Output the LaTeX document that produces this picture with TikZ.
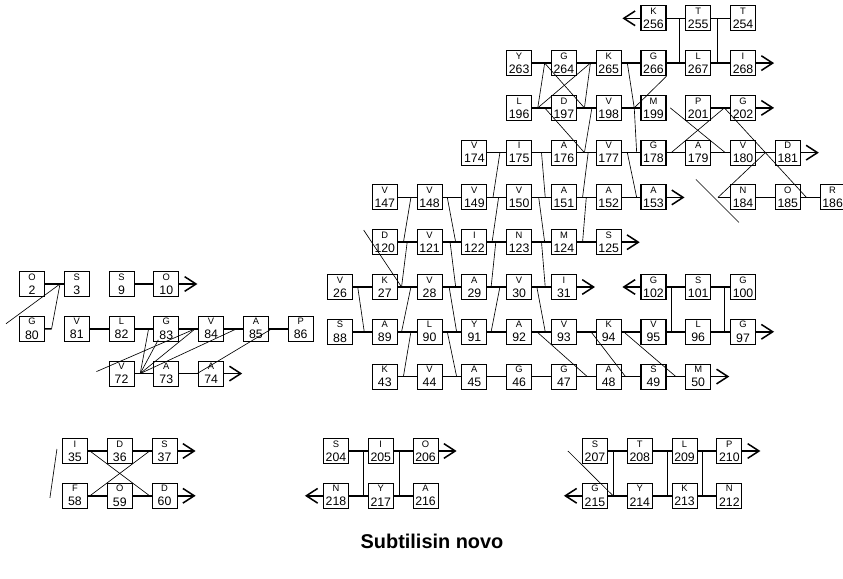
\documentclass[tikz,border=0pt]{standalone}
\usepackage{fontspec}
\setmainfont{Liberation Sans}
\usetikzlibrary{arrows.meta,positioning,calc}

\begin{document}
\begin{tikzpicture}[
  x=.3mm,y=-.3mm,
  node distance=5.6mm,
  res/.style={draw,line width=.95pt,minimum size=7.5mm,inner sep=0pt,align=center,font=\fontsize{10.5}{12}\selectfont},
  bond/.style={line width=1.3pt},
  link/.style={line width=.55pt},
  chev/.style={-{Straight Barb[length=3.4mm,width=4.4mm]}}
]
  \useasboundingbox (0,0) rectangle (843,579);

  % central sheet, row by row
  \node[res] (r26) at (340,287) {{\footnotesize V}\\26};
  \node[res,right=of r26] (r27) {{\footnotesize K}\\27};
  \node[res,right=of r27] (r28) {{\footnotesize V}\\28};
  \node[res,right=of r28] (r29) {{\footnotesize A}\\29};
  \node[res,right=of r29] (r30) {{\footnotesize V}\\30};
  \node[res,right=of r30] (r31) {{\footnotesize I}\\31};

  \node[res,above=of r27] (r120) {{\footnotesize D}\\120};
  \node[res,right=of r120] (r121) {{\footnotesize V}\\121};
  \node[res,right=of r121] (r122) {{\footnotesize I}\\122};
  \node[res,right=of r122] (r123) {{\footnotesize N}\\123};
  \node[res,right=of r123] (r124) {{\footnotesize M}\\124};
  \node[res,right=of r124] (r125) {{\footnotesize S}\\125};

  \node[res,above=of r120] (r147) {{\footnotesize V}\\147};
  \node[res,right=of r147] (r148) {{\footnotesize V}\\148};
  \node[res,right=of r148] (r149) {{\footnotesize V}\\149};
  \node[res,right=of r149] (r150) {{\footnotesize V}\\150};
  \node[res,right=of r150] (r151) {{\footnotesize A}\\151};
  \node[res,right=of r151] (r152) {{\footnotesize A}\\152};
  \node[res,right=of r152] (r153) {{\footnotesize A}\\153};

  \node[res,above=of r149] (r174) {{\footnotesize V}\\174};
  \node[res,right=of r174] (r175) {{\footnotesize I}\\175};
  \node[res,right=of r175] (r176) {{\footnotesize A}\\176};
  \node[res,right=of r176] (r177) {{\footnotesize V}\\177};
  \node[res,right=of r177] (r178) {{\footnotesize G}\\178};
  \node[res,right=of r178] (r179) {{\footnotesize A}\\179};
  \node[res,right=of r179] (r180) {{\footnotesize V}\\180};
  \node[res,right=of r180] (r181) {{\footnotesize D}\\181};

  \node[res,above=of r175] (r196) {{\footnotesize L}\\196};
  \node[res,right=of r196] (r197) {{\footnotesize D}\\197};
  \node[res,right=of r197] (r198) {{\footnotesize V}\\198};
  \node[res,right=of r198] (r199) {{\footnotesize M}\\199};
  \node[res,right=of r199] (r201) {{\footnotesize P}\\201};
  \node[res,right=of r201] (r202) {{\footnotesize G}\\202};

  \node[res,above=of r196] (r263) {{\footnotesize Y}\\263};
  \node[res,right=of r263] (r264) {{\footnotesize G}\\264};
  \node[res,right=of r264] (r265) {{\footnotesize K}\\265};
  \node[res,right=of r265] (r266) {{\footnotesize G}\\266};
  \node[res,right=of r266] (r267) {{\footnotesize L}\\267};
  \node[res,right=of r267] (r268) {{\footnotesize I}\\268};

  \node[res,above=of r266] (r256) {{\footnotesize K}\\256};
  \node[res,right=of r256] (r255) {{\footnotesize T}\\255};
  \node[res,right=of r255] (r254) {{\footnotesize T}\\254};

  \node[res,below=of r180] (r184) {{\footnotesize N}\\184};
  \node[res,right=of r184] (r185) {{\footnotesize O}\\185};
  \node[res,right=of r185] (r186) {{\footnotesize R}\\186};

  \node[res,below=of r26] (r88) {{\footnotesize S}\\88};
  \node[res,right=of r88] (r89) {{\footnotesize A}\\89};
  \node[res,right=of r89] (r90) {{\footnotesize L}\\90};
  \node[res,right=of r90] (r91) {{\footnotesize Y}\\91};
  \node[res,right=of r91] (r92) {{\footnotesize A}\\92};
  \node[res,right=of r92] (r93) {{\footnotesize V}\\93};
  \node[res,right=of r93] (r94) {{\footnotesize K}\\94};
  \node[res,right=of r94] (r95) {{\footnotesize V}\\95};
  \node[res,right=of r95] (r96) {{\footnotesize L}\\96};
  \node[res,right=of r96] (r97) {{\footnotesize G}\\97};

  \node[res,above=of r95] (r102) {{\footnotesize G}\\102};
  \node[res,right=of r102] (r101) {{\footnotesize S}\\101};
  \node[res,right=of r101] (r100) {{\footnotesize G}\\100};

  \node[res,below=of r89] (r43) {{\footnotesize K}\\43};
  \node[res,right=of r43] (r44) {{\footnotesize V}\\44};
  \node[res,right=of r44] (r45) {{\footnotesize A}\\45};
  \node[res,right=of r45] (r46) {{\footnotesize G}\\46};
  \node[res,right=of r46] (r47) {{\footnotesize G}\\47};
  \node[res,right=of r47] (r48) {{\footnotesize A}\\48};
  \node[res,right=of r48] (r49) {{\footnotesize S}\\49};
  \node[res,right=of r49] (r50) {{\footnotesize M}\\50};

  % small sheet on the left
  \node[res] (r2) at (32,284) {{\footnotesize O}\\2};
  \node[res,right=of r2] (r3) {{\footnotesize S}\\3};
  \node[res,below=of r2] (r80) {{\footnotesize G}\\80};
  \node[res,right=of r80] (r81) {{\footnotesize V}\\81};
  \node[res,right=of r81] (r82) {{\footnotesize L}\\82};
  \node[res,right=of r82] (r83) {{\footnotesize G}\\83};
  \node[res,right=of r83] (r84) {{\footnotesize V}\\84};
  \node[res,right=of r84] (r85) {{\footnotesize A}\\85};
  \node[res,right=of r85] (r86) {{\footnotesize P}\\86};
  \node[res,above=of r82] (r9) {{\footnotesize S}\\9};
  \node[res,right=of r9] (r10) {{\footnotesize O}\\10};
  \node[res,below=of r82] (r72) {{\footnotesize V}\\72};
  \node[res,right=of r72] (r73) {{\footnotesize A}\\73};
  \node[res,right=of r73] (r74) {{\footnotesize A}\\74};

  % pairs at the bottom
  \node[res] (r35) at (75,451) {{\footnotesize I}\\35};
  \node[res,right=of r35] (r36) {{\footnotesize D}\\36};
  \node[res,right=of r36] (r37) {{\footnotesize S}\\37};
  \node[res,below=of r35] (r58) {{\footnotesize F}\\58};
  \node[res,right=of r58] (r59) {{\footnotesize O}\\59};
  \node[res,right=of r59] (r60) {{\footnotesize D}\\60};

  \node[res] (r204) at (336,451) {{\footnotesize S}\\204};
  \node[res,right=of r204] (r205) {{\footnotesize I}\\205};
  \node[res,right=of r205] (r206) {{\footnotesize O}\\206};
  \node[res,below=of r204] (r218) {{\footnotesize N}\\218};
  \node[res,right=of r218] (r217) {{\footnotesize Y}\\217};
  \node[res,right=of r217] (r216) {{\footnotesize A}\\216};

  \node[res] (r207) at (595,451) {{\footnotesize S}\\207};
  \node[res,right=of r207] (r208) {{\footnotesize T}\\208};
  \node[res,right=of r208] (r209) {{\footnotesize L}\\209};
  \node[res,right=of r209] (r210) {{\footnotesize P}\\210};
  \node[res,below=of r207] (r215) {{\footnotesize G}\\215};
  \node[res,right=of r215] (r214) {{\footnotesize Y}\\214};
  \node[res,right=of r214] (r213) {{\footnotesize K}\\213};
  \node[res,right=of r213] (r212) {{\footnotesize N}\\212};

  \node[font=\bfseries\fontsize{17}{19}\selectfont] (title) at (432,541) {Subtilisin novo};

  % chain ends and loose ends
  \coordinate[left=5.4mm of r256] (e256);
  \coordinate[right=5.4mm of r268] (e268);
  \coordinate[right=5.4mm of r202] (e202);
  \coordinate[right=5.4mm of r181] (e181);
  \coordinate[right=5.4mm of r153] (e153);
  \coordinate[right=5.4mm of r125] (e125);
  \coordinate[right=5.4mm of r31] (e31);
  \coordinate[left=5.4mm of r102] (e102);
  \coordinate[right=5.4mm of r97] (e97);
  \coordinate[right=5.4mm of r50] (e50);
  \coordinate[right=5.4mm of r10] (e10);
  \coordinate[right=5.4mm of r74] (e74);
  \coordinate[right=5.4mm of r37] (e37);
  \coordinate[right=5.4mm of r60] (e60);
  \coordinate[right=5.4mm of r206] (e206);
  \coordinate[left=5.4mm of r218] (e218);
  \coordinate[right=5.4mm of r210] (e210);
  \coordinate[left=5.4mm of r215] (e215);
  \coordinate[right=of r186] (e186);
  \coordinate[left=3.6mm of r184] (j184);
  \coordinate (f184a) at ($(j184)+(-22,-18)$);
  \coordinate (f184b) at ($(j184)+(21,25)$);
  \coordinate (f120) at ($(r120.north west)+(-8,1)$);
  \coordinate (f80) at ($(r80.west)+(-13,-5)$);
  \coordinate (f72) at ($(r72.west)+(-12,-2)$);
  \coordinate (f35a) at ($(r35.west)+(-5,-2)$);
  \coordinate (f35b) at ($(r58.west)+(-12,2)$);
  \coordinate (f207) at ($(r207.west)+(-14,0)$);

  % strands
  \draw[bond] (r256) -- (r255) -- (r254);
  \draw[bond,chev] (r256) -- (e256);
  \draw[bond] (r263) -- (r264) -- (r265) -- (r266) -- (r267) -- (r268);
  \draw[bond,chev] (r268) -- (e268);
  \draw[bond] (r196) -- (r197) -- (r198) -- (r199);
  \draw[bond] (r201) -- (r202);
  \draw[bond,chev] (r202) -- (e202);
  \draw[bond] (r174) -- (r175) -- (r176) -- (r177) -- (r178) -- (r179) -- (r180) -- (r181);
  \draw[bond,chev] (r181) -- (e181);
  \draw[bond] (r147) -- (r148) -- (r149) -- (r150) -- (r151) -- (r152) -- (r153);
  \draw[bond,chev] (r153) -- (e153);
  \draw[bond] (j184) -- (r184) -- (r185) -- (r186) -- (e186);
  \draw[bond] (r120) -- (r121) -- (r122) -- (r123) -- (r124) -- (r125);
  \draw[bond,chev] (r125) -- (e125);
  \draw[bond] (r26) -- (r27) -- (r28) -- (r29) -- (r30) -- (r31);
  \draw[bond,chev] (r31) -- (e31);
  \draw[bond] (r102) -- (r101) -- (r100);
  \draw[bond,chev] (r102) -- (e102);
  \draw[bond] (r88) -- (r89) -- (r90) -- (r91) -- (r92) -- (r93) -- (r94) -- (r95) -- (r96) -- (r97);
  \draw[bond,chev] (r97) -- (e97);
  \draw[bond] (r43) -- (r44) -- (r45) -- (r46) -- (r47) -- (r48) -- (r49) -- (r50);
  \draw[bond,chev] (r50) -- (e50);

  % cross links, top block
  \draw[link] ($(r256.east)!.7!(r255.west)$) -- ($(r266.east)!.7!(r267.west)$);
  \draw[link] ($(r255.east)!.3!(r254.west)$) -- ($(r267.east)!.3!(r268.west)$);
  \draw[link] ($(r263.east)!.67!(r264.west)$) -- ($(r196.east)!.3!(r197.west)$);
  \draw[link] ($(r196.east)!.3!(r197.west)$) -- ($(r264.east)!.72!(r265.west)$);
  \draw[link] ($(r263.east)!.67!(r264.west)$) -- ($(r197.east)!.4!(r198.west)$);
  \draw[link] ($(r264.east)!.72!(r265.west)$) -- ($(r197.east)!.4!(r198.west)$);
  \draw[link] ($(r265.east)!.3!(r266.west)$) -- ($(r198.east)!.67!(r199.west)$);
  \draw[link] ($(r198.east)!.67!(r199.west)$) -- (r266.south east);
  \draw[link] ($(r196.east)!.67!(r197.west)$) -- ($(r176.east)!.4!(r177.west)$);
  \draw[link] ($(r197.east)!.8!(r198.west)$) -- ($(r176.east)!.4!(r177.west)$);
  \draw[link] ($(r198.east)!.67!(r199.west)$) -- ($(r177.east)!.8!(r178.west)$);
  \draw[link] ($(r199.east)!.2!(r201.west)$) -- ($(r179.east)!.75!(r180.west)$);
  \draw[link] ($(r178.east)!.25!(r179.west)$) -- ($(r201.east)!.7!(r202.west)$);
  \draw[link] ($(r201.east)!.7!(r202.west)$) -- ($(r180.east)!.5!(r181.west)$);
  \draw[link] ($(r180.east)!.5!(r181.west)$) -- ($(r185.east)!.3!(r186.west)$);
  \draw[link] ($(r180.east)!.5!(r181.west)$) -- (j184);
  \draw[link] (f184a) -- (f184b);

  % cross links, middle block
  \draw[link] ($(r174.east)!.67!(r175.west)$) -- ($(r149.east)!.3!(r150.west)$);
  \draw[link] ($(r175.east)!.5!(r176.west)$) -- ($(r150.east)!.7!(r151.west)$);
  \draw[link] ($(r176.east)!.6!(r177.west)$) -- ($(r151.east)!.3!(r152.west)$);
  \draw[link] ($(r177.east)!.3!(r178.west)$) -- ($(r152.east)!.8!(r153.west)$);
  \draw[link] ($(r147.east)!.7!(r148.west)$) -- ($(r120.east)!.3!(r121.west)$);
  \draw[link] ($(r148.east)!.25!(r149.west)$) -- ($(r121.east)!.7!(r122.west)$);
  \draw[link] ($(r149.east)!.6!(r150.west)$) -- ($(r122.east)!.25!(r123.west)$);
  \draw[link] ($(r150.east)!.35!(r151.west)$) -- ($(r123.east)!.67!(r124.west)$);
  \draw[link] ($(r151.east)!.5!(r152.west)$) -- ($(r124.east)!.3!(r125.west)$);
  \draw[link] ($(r120.east)!.5!(r121.west)$) -- ($(r27.east)!.2!(r28.west)$);
  \draw[link] ($(r121.east)!.4!(r122.west)$) -- ($(r28.east)!.7!(r29.west)$);
  \draw[link] ($(r122.east)!.45!(r123.west)$) -- ($(r29.east)!.2!(r30.west)$);
  \draw[link] ($(r123.east)!.5!(r124.west)$) -- ($(r30.east)!.7!(r31.west)$);
  \draw[link] (f120) -- ($(r27.east)!.2!(r28.west)$);

  % cross links, lower block
  \draw[link] ($(r26.east)!.25!(r27.west)$) -- ($(r88.east)!.6!(r89.west)$);
  \draw[link] ($(r27.east)!.7!(r28.west)$) -- ($(r89.east)!.2!(r90.west)$);
  \draw[link] ($(r28.east)!.35!(r29.west)$) -- ($(r90.east)!.75!(r91.west)$);
  \draw[link] ($(r29.east)!.67!(r30.west)$) -- ($(r91.east)!.2!(r92.west)$);
  \draw[link] ($(r30.east)!.25!(r31.west)$) -- ($(r92.east)!.7!(r93.west)$);
  \draw[link] ($(r89.east)!.7!(r90.west)$) -- ($(r43.east)!.3!(r44.west)$);
  \draw[link] ($(r90.east)!.25!(r91.west)$) -- ($(r44.east)!.75!(r45.west)$);
  \draw[link] ($(r92.east)!.25!(r93.west)$) -- ($(r47.east)!.55!(r48.west)$);
  \draw[link] ($(r93.east)!.75!(r94.west)$) -- ($(r48.east)!.2!(r49.west)$);
  \draw[link] ($(r94.east)!.1!(r95.west)$) -- ($(r49.east)!.5!(r50.west)$);
  \draw[link] ($(r102.east)!.25!(r101.west)$) -- ($(r95.east)!.25!(r96.west)$);
  \draw[link] ($(r101.east)!.7!(r100.west)$) -- ($(r96.east)!.7!(r97.west)$);

  % left sheet
  \draw[bond] (r2) -- (r3);
  \draw[bond] (r9) -- (r10);
  \draw[bond,chev] (r10) -- (e10);
  \draw[bond] (r80) -- ($(r80.east)!.35!(r81.west)$);
  \draw[bond] (r81) -- (r82) -- (r83) -- (r84) -- (r85) -- (r86);
  \draw[bond] (r72) -- (r73) -- (r74);
  \draw[bond,chev] (r74) -- (e74);
  \draw[link] ($(r80.east)!.35!(r81.west)$) -- ($(r2.east)!.8!(r3.west)$);
  \draw[link] (f80) -- ($(r2.east)!.8!(r3.west)$);
  \draw[link] ($(r72.east)!.3!(r73.west)$) -- ($(r82.east)!.75!(r83.west)$);
  \draw[link] ($(r72.east)!.3!(r73.west)$) -- ($(r83.south west)+(5,-2)$);
  \draw[link] ($(r72.east)!.3!(r73.west)$) -- ($(r83.east)!.85!(r84.west)$);
  \draw[link] ($(r72.east)!.3!(r73.west)$) -- ($(r84.east)!.67!(r85.west)$);
  \draw[link] (f72) -- ($(r83.east)!.85!(r84.west)$);
  \draw[link] ($(r73.east)!.95!(r74.west)$) -- ($(r85.east)!.15!(r86.west)$);

  % bottom pairs
  \draw[bond] (r35) -- (r36) -- (r37);
  \draw[bond,chev] (r37) -- (e37);
  \draw[bond] (r58) -- (r59) -- (r60);
  \draw[bond,chev] (r60) -- (e60);
  \draw[link] ($(r35.east)!.1!(r36.west)$) -- ($(r59.east)!.9!(r60.west)$);
  \draw[link] ($(r36.east)!.9!(r37.west)$) -- ($(r58.east)!.1!(r59.west)$);
  \draw[link] (f35a) -- (f35b);

  \draw[bond] (r204) -- (r205) -- (r206);
  \draw[bond,chev] (r206) -- (e206);
  \draw[bond] (r218) -- (r217) -- (r216);
  \draw[bond,chev] (r218) -- (e218);
  \draw[link] ($(r204.east)!.77!(r205.west)$) -- ($(r218.east)!.77!(r217.west)$);
  \draw[link] ($(r205.east)!.3!(r206.west)$) -- ($(r217.east)!.3!(r216.west)$);

  \draw[bond] (r207) -- (r208) -- (r209) -- (r210);
  \draw[bond,chev] (r210) -- (e210);
  \draw[bond] (r215) -- (r214) -- (r213) -- (r212);
  \draw[bond,chev] (r215) -- (e215);
  \draw[link] ($(r207.east)!.27!(r208.west)$) -- ($(r215.east)!.27!(r214.west)$);
  \draw[link] ($(r208.east)!.78!(r209.west)$) -- ($(r214.east)!.78!(r213.west)$);
  \draw[link] ($(r209.east)!.25!(r210.west)$) -- ($(r213.east)!.25!(r212.west)$);
  \draw[link] (f207) -- ($(r215.east)!.27!(r214.west)$);
\end{tikzpicture}
\end{document}
